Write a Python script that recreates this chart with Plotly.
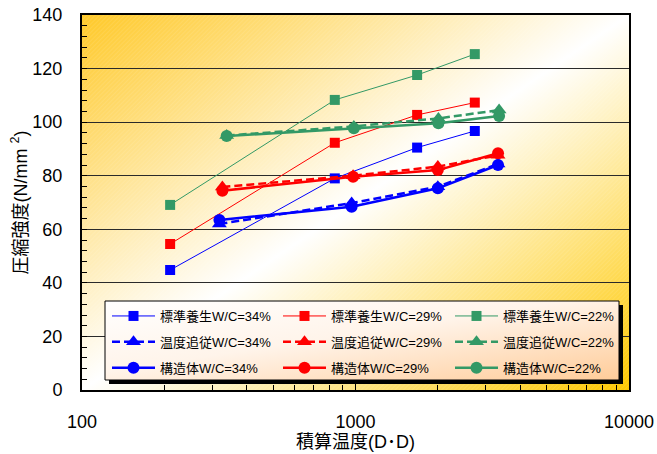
import base64
import plotly.graph_objects as go

# ---- data -------------------------------------------------------------
# standard curing (標準養生): accumulated temperature of the water-cured specimens
std_dd = [210, 840, 1680, 2730]
std_34 = [44.8, 79.0, 90.5, 96.7]
std_29 = [54.5, 92.3, 102.7, 107.3]
std_22 = [69.1, 108.3, 117.6, 125.4]

# temperature-matched curing (温度追従) and structure cores (構造体)
dd_34 = [318, 968, 2000, 3320]
dd_29 = [326, 980, 2000, 3320]
dd_22 = [338, 986, 2010, 3350]

trk_34 = [62.0, 69.8, 75.9, 84.4]
trk_29 = [75.8, 80.0, 83.4, 87.6]
trk_22 = [95.0, 98.4, 101.4, 104.5]

str_34 = [63.5, 68.4, 75.3, 84.0]
str_29 = [74.4, 79.6, 82.1, 88.4]
str_22 = [94.8, 97.7, 99.6, 102.3]

x_ticks = [100, 1000, 10000]
x_minor = [200, 300, 400, 500, 600, 700, 800, 900,
           2000, 3000, 4000, 5000, 6000, 7000, 8000, 9000]
y_ticks = [0, 20, 40, 60, 80, 100, 120, 140]

BLUE, RED, GREEN = "#0000FF", "#FF0000", "#339966"
FONT = "Liberation Sans, Arial, Noto Sans CJK JP, sans-serif"

# plot-area geometry in pixels
W, H = 657, 454
L, R, T, B = 82, 28, 15, 64
PW, PH = W - L - R, H - T - B


def px_x(p):
    return (p - L) / PW


def px_y(p):
    return (H - B - p) / PH


def svg_uri(w, h, body):
    svg = (f'<svg xmlns="http://www.w3.org/2000/svg" width="{w}" height="{h}" '
           f'viewBox="0 0 {w} {h}" preserveAspectRatio="none">{body}</svg>')
    return "data:image/svg+xml;base64," + base64.b64encode(svg.encode()).decode()


plot_bg = svg_uri(PW, PH, (
    '<defs><linearGradient id="g" x1="0" y1="0" x2="1" y2="1">'
    '<stop offset="0" stop-color="#FFC929"/>'
    '<stop offset="0.5" stop-color="#FFFFFF"/>'
    '<stop offset="1" stop-color="#FFC800"/></linearGradient>'
    '<pattern id="p" width="3" height="3" patternUnits="userSpaceOnUse" '
    'patternTransform="rotate(45)"><line x1="0" y1="0" x2="0" y2="3" '
    'stroke="#FFFFFF" stroke-width="1" stroke-opacity="0.18"/></pattern></defs>'
    f'<rect width="{PW}" height="{PH}" fill="url(#g)"/>'
    f'<rect width="{PW}" height="{PH}" fill="url(#p)"/>'))

# legend box (pixels)
LX0, LX1, LY0, LY1 = 105, 619, 301, 380
legend_bg = svg_uri(LX1 - LX0, LY1 - LY0, (
    '<defs><linearGradient id="g" x1="0" y1="0" x2="1" y2="1">'
    '<stop offset="0" stop-color="#FFFFFF"/>'
    '<stop offset="0.45" stop-color="#FFF4EA"/>'
    '<stop offset="1" stop-color="#FFCC99"/></linearGradient></defs>'
    f'<rect width="{LX1 - LX0}" height="{LY1 - LY0}" fill="url(#g)"/>'))

fig = go.Figure()

series = [
    # (name, x, y, color, symbol, dash, width, msize, legend)
    ("標準養生W/C=34%", std_dd, std_34, BLUE, "square", "solid", 1, 10, "legend"),
    ("標準養生W/C=29%", std_dd, std_29, RED, "square", "solid", 1, 10, "legend2"),
    ("標準養生W/C=22%", std_dd, std_22, GREEN, "square", "solid", 1, 10, "legend3"),
    ("温度追従W/C=34%", dd_34, trk_34, BLUE, "triangle-up", "8px,4px", 2.5, 13, "legend"),
    ("温度追従W/C=29%", dd_29, trk_29, RED, "triangle-up", "8px,4px", 2.5, 13, "legend2"),
    ("温度追従W/C=22%", dd_22, trk_22, GREEN, "triangle-up", "8px,4px", 2.5, 13, "legend3"),
    ("構造体W/C=34%", dd_34, str_34, BLUE, "circle", "solid", 2.5, 12, "legend"),
    ("構造体W/C=29%", dd_29, str_29, RED, "circle", "solid", 2.5, 12, "legend2"),
    ("構造体W/C=22%", dd_22, str_22, GREEN, "circle", "solid", 2.5, 12, "legend3"),
]

for i, (name, xs, ys, col, sym, dash, lw, ms, leg) in enumerate(series):
    fig.add_trace(go.Scatter(
        x=xs, y=ys, name=name, mode="lines+markers",
        line=dict(color=col, width=lw, dash=dash),
        marker=dict(color=col, symbol=sym, size=ms, line=dict(width=0)),
        legend=leg, legendgroup=f"g{i}",
    ))

leg_common = dict(
    orientation="v", yanchor="top", xanchor="left",
    bgcolor="rgba(0,0,0,0)", borderwidth=0, tracegroupgap=6,
    traceorder="grouped", itemwidth=43,
    font=dict(family=FONT, size=13, color="black"),
)
leg_top = px_y(301)
fig.update_layout(
    legend=dict(x=px_x(107), y=leg_top, **leg_common),
    legend2=dict(x=px_x(278), y=leg_top, **leg_common),
    legend3=dict(x=px_x(450), y=leg_top, **leg_common),
)

fig.update_xaxes(
    type="log", range=[2, 4], tickvals=x_ticks, ticktext=[str(v) for v in x_ticks],
    ticks="inside", ticklen=8, tickcolor="black", tickwidth=1,
    minor=dict(tickvals=x_minor, ticks="inside", ticklen=5, tickcolor="black", showgrid=False),
    showgrid=False, zeroline=False,
    showline=True, mirror=True, linecolor="black", linewidth=2,
    tickfont=dict(family=FONT, size=18, color="black"),
    ticklabelstandoff=14,
    title=dict(text="積算温度(D･D)", standoff=2,
               font=dict(family=FONT, size=18, color="black")),
)
fig.update_yaxes(
    range=[0, 140], tickvals=y_ticks,
    ticks="inside", ticklen=5, tickcolor="black", tickwidth=1,
    minor=dict(dtick=4, ticks="inside", ticklen=5, tickcolor="black", showgrid=False),
    showgrid=True, gridcolor="#2a2a2a", gridwidth=1, zeroline=False,
    showline=True, mirror=True, linecolor="black", linewidth=2,
    tickfont=dict(family=FONT, size=18, color="black"),
    ticklabelstandoff=14,
    title=dict(text="圧縮強度(N/mm <sup>2</sup>)", standoff=0,
               font=dict(family=FONT, size=18, color="black")),
)

fig.update_layout(
    width=W, height=H,
    margin=dict(l=L, r=R, t=T, b=B, autoexpand=False),
    paper_bgcolor="white", plot_bgcolor="rgba(0,0,0,0)",
    font=dict(family=FONT, color="black"),
    images=[
        dict(source=plot_bg, xref="paper", yref="paper", x=0, y=1,
             sizex=1, sizey=1, sizing="stretch", xanchor="left", yanchor="top",
             layer="below"),
        dict(source=legend_bg, xref="paper", yref="paper",
             x=px_x(LX0), y=px_y(LY0),
             sizex=(LX1 - LX0) / PW, sizey=(LY1 - LY0) / PH,
             sizing="stretch", xanchor="left", yanchor="top", layer="above"),
    ],
    shapes=[
        # drop shadow of the legend box
        dict(type="rect", xref="paper", yref="paper", layer="above",
             x0=px_x(LX1), x1=px_x(LX1 + 4), y0=px_y(LY0 + 4), y1=px_y(LY1 + 4),
             fillcolor="black", line=dict(width=0)),
        dict(type="rect", xref="paper", yref="paper", layer="above",
             x0=px_x(LX0 + 4), x1=px_x(LX1 + 4), y0=px_y(LY1), y1=px_y(LY1 + 4),
             fillcolor="black", line=dict(width=0)),
        # legend frame
        dict(type="rect", xref="paper", yref="paper", layer="above",
             x0=px_x(LX0), x1=px_x(LX1), y0=px_y(LY1), y1=px_y(LY0),
             fillcolor="rgba(0,0,0,0)", line=dict(color="black", width=1)),
    ],
)

fig.write_html("out.html")
